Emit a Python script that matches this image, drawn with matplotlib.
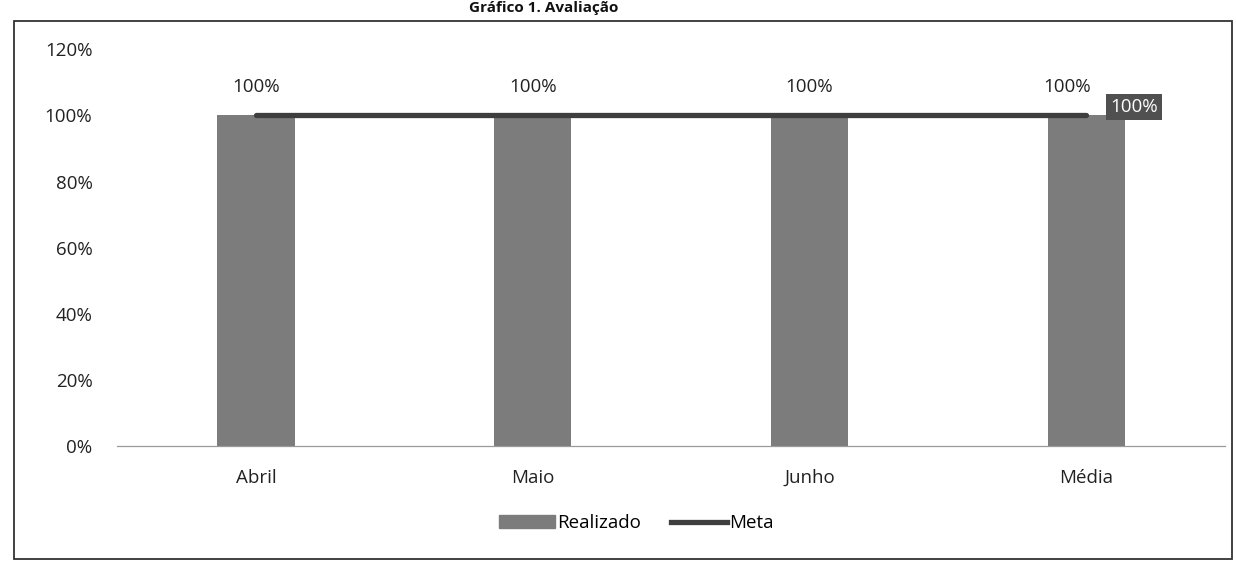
import matplotlib.pyplot as plt
from matplotlib.patches import Rectangle
from matplotlib.lines import Line2D
from matplotlib.ticker import FuncFormatter

# data
categories = ["Abril", "Maio", "Junho", "Média"]
realizado = [1.00, 1.00, 1.00, 1.00]
meta = [1.00, 1.00, 1.00, 1.00]
y_ticks = [0.0, 0.2, 0.4, 0.6, 0.8, 1.0, 1.2]

plt.rcParams['font.family'] = ['Open Sans', 'DejaVu Sans']

bar_color = '#7c7c7c'
line_color = '#3e3e3e'
fs = 13.5

fig = plt.figure(figsize=(12.36, 5.65), dpi=100)
ax = fig.add_axes([0.095, 0.21, 0.896, 0.703])

x = range(len(categories))
ax.bar(x, realizado, width=0.28, color=bar_color, zorder=2)
ax.plot(x, meta, color=line_color, linewidth=3.8, solid_capstyle='round', zorder=3)

# data labels for Realizado
for i, v in enumerate(realizado):
    dx = -0.07 if i == len(categories) - 1 else 0
    ax.annotate(f"{v:.0%}", (i + dx, v), xytext=(0, 14), textcoords='offset points',
                ha='center', va='bottom', fontsize=fs, color='#222222')

# label for the last Meta point, dark box
ax.annotate(f"{meta[-1]:.0%}", (len(categories) - 1, meta[-1]), xytext=(17, 6),
            textcoords='offset points', ha='left', va='center', fontsize=fs,
            color='white', bbox=dict(boxstyle='square,pad=0.22', fc='#505050', ec='none'))

ax.set_ylim(0, 1.2)
ax.set_xlim(-0.5, len(categories) - 0.5)
ax.set_yticks(y_ticks)
ax.yaxis.set_major_formatter(FuncFormatter(lambda v, p: f"{v:.0%}"))
ax.set_xticks(list(x))
ax.set_xticklabels(categories)
ax.tick_params(axis='y', length=0, pad=18, labelsize=fs, labelcolor='#222222')
ax.tick_params(axis='x', length=0, pad=16, labelsize=fs, labelcolor='#222222')
for s in ['top', 'right', 'left']:
    ax.spines[s].set_visible(False)
ax.spines['bottom'].set_color('#9a9a9a')
ax.spines['bottom'].set_linestyle((0, (1, 1)))
ax.spines['bottom'].set_linewidth(0.9)

handles = [Rectangle((0, 0), 1, 1, color=bar_color),
           Line2D([0], [0], color=line_color, linewidth=3.8)]
fig.legend(handles, ["Realizado", "Meta"], loc='center', bbox_to_anchor=(0.515, 0.074),
           ncol=2, frameon=False, fontsize=fs, handlelength=3.0, handletextpad=0.1,
           columnspacing=1.6)

# chart frame
fig.patches.append(Rectangle((0.011, 0.01), 0.986, 0.952, transform=fig.transFigure,
                             fill=False, ec='#333333', lw=1.3))

# title above the frame
fig.text(0.44, 0.998, "Gráfico 1. Avaliação", ha='center', va='top',
         fontsize=11, fontweight='bold', color='#111111')

fig.savefig("out.png", dpi=100)
